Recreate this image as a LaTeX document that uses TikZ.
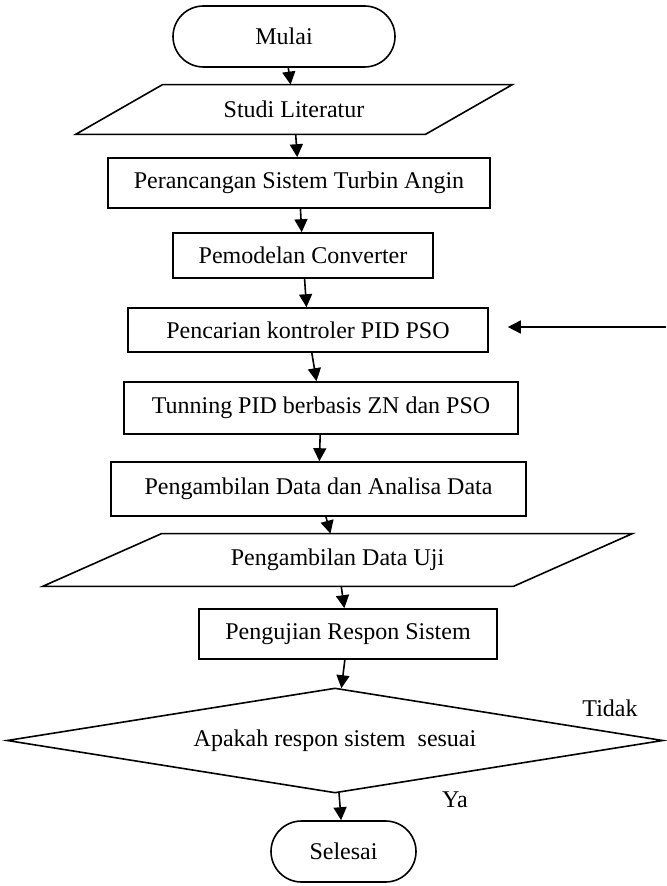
\documentclass[tikz,border=0pt]{standalone}
\usepackage{fontspec}
\setmainfont{Liberation Serif}
\usetikzlibrary{shapes.geometric,shapes.misc,arrows.meta}

\tikzset{
  term/.style={draw, rounded rectangle, line width=0.8pt, inner sep=0pt},
  proc/.style={draw, rectangle, line width=0.8pt, inner sep=0pt},
  io/.style={rectangle, inner sep=0pt},
  iolines/.style={line width=0.8pt, line join=miter},
  decision/.style={draw, diamond, aspect=6.25, line width=0.8pt, inner sep=0pt},
  arr/.style={-{Triangle[length=6.5pt,width=6.5pt]}, line width=0.8pt}
}

\begin{document}
\begin{tikzpicture}[x=0.5pt, y=-0.5pt, font=\fontsize{12pt}{14pt}\selectfont]

        \useasboundingbox (0,0) rectangle (666,886);

        % Nodes

        \node[term, minimum width=111pt, minimum height=30.5pt] (mulai) at (284,36.5) {Mulai};
        \node[io, minimum width=174.5pt, minimum height=24.5pt] (lit) at (294,109.5) {Studi Literatur};
        \node[proc, minimum width=191pt, minimum height=25pt] (rancang) at (299,183) {Perancangan Sistem Turbin Angin};
        \node[proc, minimum width=130pt, minimum height=22.5pt] (model) at (303,255.5) {Pemodelan Converter};
        \node[proc, minimum width=180pt, minimum height=22pt] (cari) at (308,330) {Pencarian kontroler PID PSO};
        \node[proc, minimum width=197pt, minimum height=26pt] (tuning) at (321,408) {Tunning PID berbasis ZN dan PSO};
        \node[proc, minimum width=207.5pt, minimum height=27pt] (ambil) at (318.5,489) {Pengambilan Data dan Analisa Data};
        \node[io, minimum width=235pt, minimum height=26pt] (uji) at (337.5,560) {Pengambilan Data Uji};
        \node[proc, minimum width=149pt, minimum height=25pt] (respon) at (348,634) {Pengujian Respon Sistem};
        \node[decision, minimum width=328pt, minimum height=52.5pt] (cek) at (335,740.5) {Apakah respon sistem~ sesuai};
        \node[term, minimum width=72.5pt, minimum height=30.5pt] (selesai) at (343.5,851.5) {Selesai};

        \node (tidak) at (610,708) {Tidak};
        \node (ya) at (455,800) {Ya};
        \coordinate (balik) at (666,327);

        % Parallelograms

        \draw[iolines] ([xshift=-21.75pt]lit.south west) -- ([xshift=21.75pt]lit.north west)
            -- ([xshift=21.75pt]lit.north east) -- ([xshift=-21.75pt]lit.south east) -- cycle;
        \draw[iolines] ([xshift=-29.75pt]uji.south west) -- ([xshift=29.75pt]uji.north west)
            -- ([xshift=29.75pt]uji.north east) -- ([xshift=-29.75pt]uji.south east) -- cycle;

        % Edges

        \draw[arr] (mulai) -- (lit);
        \draw[arr] (lit) -- (rancang);
        \draw[arr] (rancang) -- (model);
        \draw[arr] (model) -- (cari);
        \draw[arr] (cari) -- (tuning);
        \draw[arr] (tuning) -- (ambil);
        \draw[arr] (ambil) -- (uji);
        \draw[arr] (uji) -- (respon);
        \draw[arr] (respon) -- (cek);
        \draw[arr] (cek) -- (selesai);
        \draw[arr, shorten >=9.5pt] (balik) -- (balik -| cari.east);

    \end{tikzpicture}
\end{document}
